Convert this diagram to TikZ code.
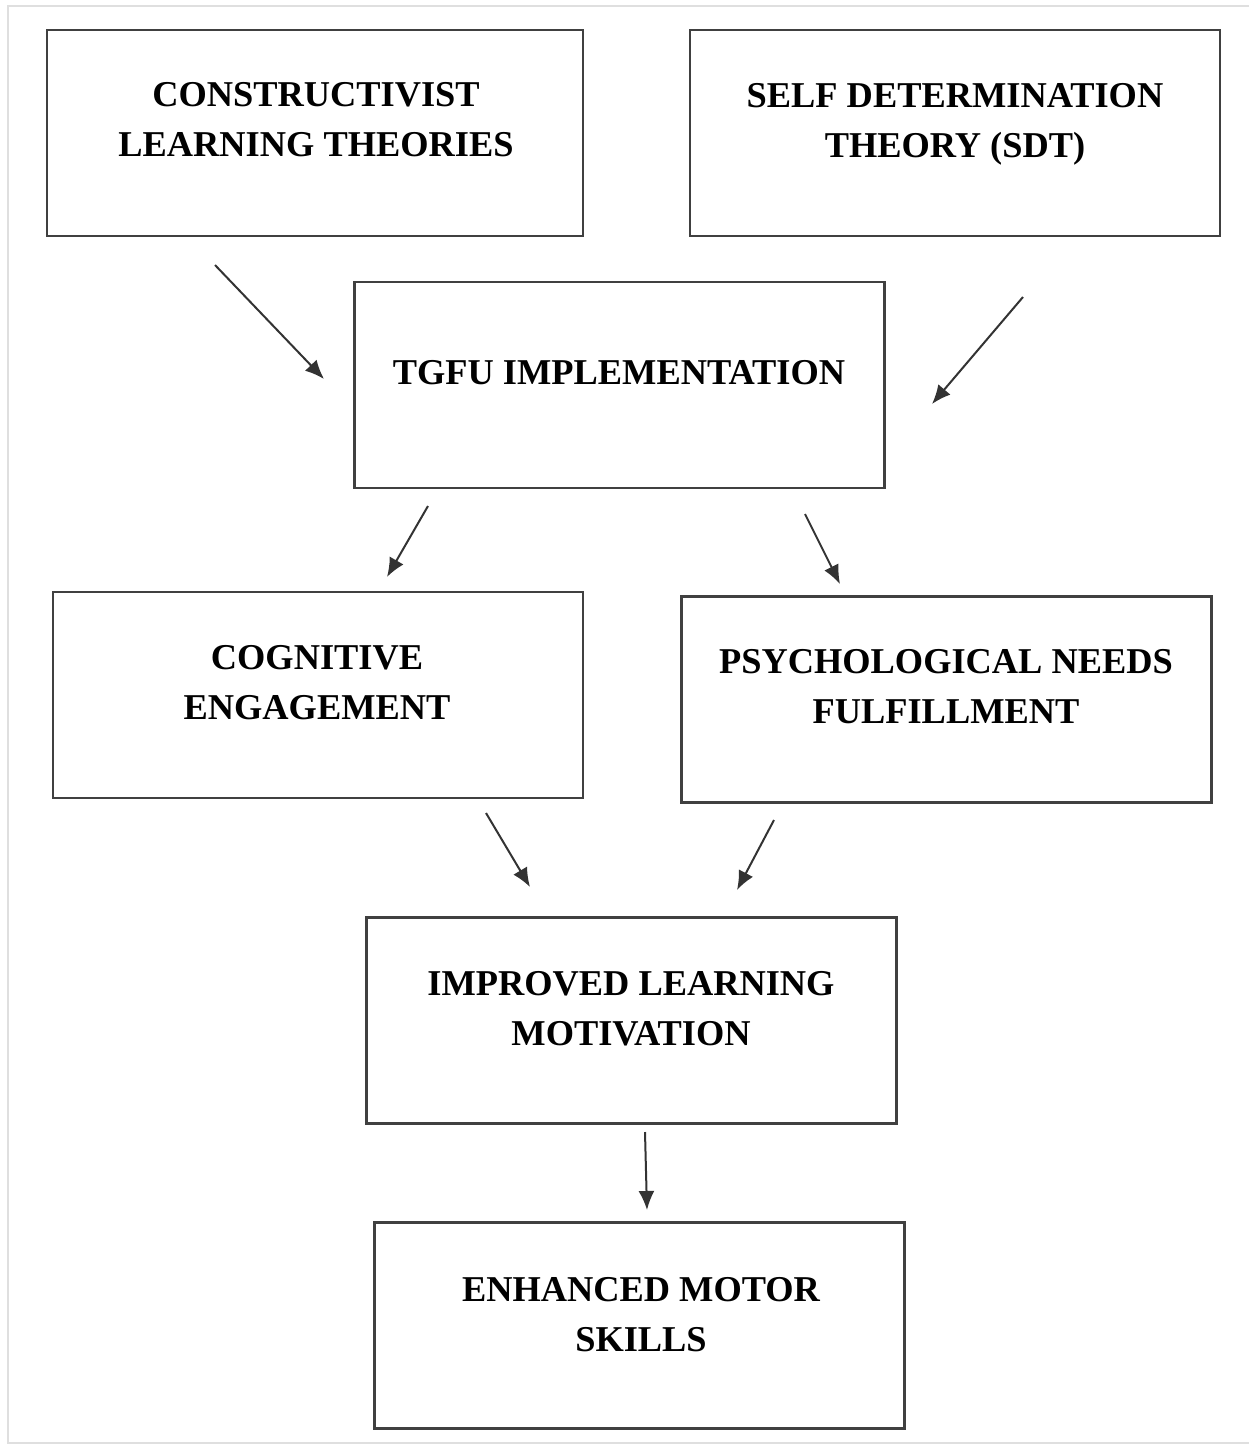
\documentclass[tikz,border=0pt]{standalone}
\usepackage{fontspec}
\setmainfont{Liberation Serif}
\usetikzlibrary{arrows.meta}

\begin{document}
\begin{tikzpicture}[x=0.02cm, y=-0.02cm,
    box/.style={draw=black!75, line width=0.045cm, minimum width=10.6cm, minimum height=4.12cm, inner sep=0pt},
    txt/.style={align=center, font=\fontsize{20.7}{28.5}\selectfont\bfseries, inner sep=0pt},
    link/.style={-{Latex[length=0.38cm, width=0.32cm]}, line width=0.04cm, black!80}]
      \useasboundingbox (0, 0) rectangle (1249, 1445);
      % Faint outer frame
      \draw[gray!25, line width=0.05cm] (1249, 6) -- (8, 6) -- (8, 1443) -- (1249, 1443);

      % Boxes
      \node[box, minimum width=10.72cm] (clt) at (315, 133) {};
      \node[box] (sdt) at (955, 133) {};
      \node[box] (tgfu) at (619.5, 385) {};
      \node[box] (cog) at (318, 695) {};
      \node[box] (pnf) at (946.5, 699.5) {};
      \node[box] (ilm) at (631.5, 1020.5) {};
      \node[box] (ems) at (639.5, 1325.5) {};

      % Texts
      \node[txt] (clt-t) at (316, 120) {CONSTRUCTIVIST\\LEARNING THEORIES};
      \node[txt] (sdt-t) at (955, 124) {SELF DETERMINATION\\THEORY (SDT)};
      \node[txt] (tgfu-t) at (619, 373) {TGFU IMPLEMENTATION};
      \node[txt] (cog-t) at (317, 683) {COGNITIVE\\ENGAGEMENT};
      \node[txt] (pnf-t) at (946, 687) {PSYCHOLOGICAL NEEDS\\FULFILLMENT};
      \node[txt] (ilm-t) at (631, 1009) {IMPROVED LEARNING\\MOTIVATION};
      \node[txt] (ems-t) at (641, 1315) {ENHANCED MOTOR\\SKILLS};

      % Arrow ends
      \coordinate (a1s) at (215, 265);  \coordinate (a1e) at (324, 379);
      \coordinate (a2s) at (1023, 297); \coordinate (a2e) at (932, 404);
      \coordinate (a3s) at (428, 506);  \coordinate (a3e) at (387, 577);
      \coordinate (a4s) at (805, 514);  \coordinate (a4e) at (840, 584);
      \coordinate (a5s) at (486, 813);  \coordinate (a5e) at (530, 887);
      \coordinate (a6s) at (774, 820);  \coordinate (a6e) at (737, 890);
      \coordinate (a7s) at (645, 1132); \coordinate (a7e) at (647, 1210);
      \foreach \i in {1,...,7}
        \draw[link] (a\i s) -- (a\i e);
    \end{tikzpicture}
\end{document}
